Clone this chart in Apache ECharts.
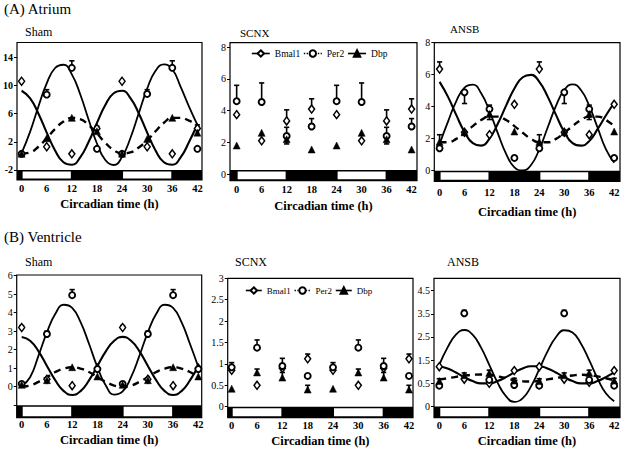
<!DOCTYPE html>
<html><head><meta charset="utf-8">
<script src="https://cdn.jsdelivr.net/npm/echarts@6/dist/echarts.min.js"></script>
<style>html,body{margin:0;padding:0;background:#fff}#c{width:623px;height:450px}</style>
</head><body><div id="c"></div>
<script>
// ---------- shared ----------
const hours = [0, 6, 12, 18, 24, 30, 36, 42];
const curveHours = [0,2,4,6,8,10,12,14,16,18,20,22,24,26,28,30,32,34,36,38,40,42];
const xTicks = [0, 6, 12, 18, 24, 30, 36, 42];
const lightPhases = [[0, 12], [24, 36]];

// ---------- (A) Atrium – Sham ----------
const aShamYTicks = [-2, 2, 6, 10, 14];
const aShamBmal1 = [10.6, 1.3, 0.3, 3.9, 10.6, 1.3, 0.3, 3.9];
const aShamPer2  = [0.3, 8.7, 12.5, 1.0, 0.3, 8.8, 12.5, 1.0];
const aShamDbp   = [0.3, 2.5, 5.4, 3.5, 0.3, 2.4, 5.4, 3.3];
const aShamBmal1Err = [null, null, null, null, null, null, null, null];
const aShamPer2Err  = [null, 9.4, 13.5, null, null, 9.4, 13.5, null];
const aShamDbpErr   = [null, null, null, 4.2, null, null, null, 4.4];
const aShamBmal1Fit = [9.25, 8.20, 6.03, 3.31, 0.77, -0.90, -1.25, -0.20, 1.97, 4.69, 7.23, 8.90, 9.25, 8.20, 6.03, 3.31, 0.77, -0.90, -1.25, -0.20, 1.97, 4.50];
const aShamPer2Fit  = [0.40, 3.38, 6.99, 10.31, 12.48, 12.94, 11.58, 8.75, 5.16, 1.76, -0.59, -1.29, -0.14, 2.55, 6.07, 9.55, 12.08, 13.0, 12.3, 9.8, 7.0, 4.4];
const aShamDbpFit   = [0.32, 0.49, 1.30, 2.52, 3.83, 4.87, 5.38, 5.21, 4.40, 3.18, 1.87, 0.83, 0.35, 0.50, 1.20, 2.20, 3.50, 4.70, 5.40, 5.40, 5.00, 4.40];

// ---------- (A) Atrium – SCNX ----------
const aScnxYTicks = [0, 2, 4, 6, 8];
const aScnxBmal1 = [3.75, 2.1, 3.35, 4.1, 3.75, 2.1, 3.35, 4.1];
const aScnxPer2  = [4.6, 4.55, 2.4, 3.0, 4.6, 4.55, 2.4, 3.0];
const aScnxDbp   = [1.8, 2.6, 2.2, 1.55, 1.8, 2.6, 2.2, 1.55];
const aScnxBmal1Err = [null, null, 4.05, 4.75, null, null, 4.05, 4.75];
const aScnxPer2Err  = [5.6, 5.75, 2.95, 3.5, 5.6, 5.75, 2.95, 3.5];
const aScnxDbpErr   = [null, null, 1.9, null, null, null, 1.9, null];

// ---------- (A) Atrium – ANSB ----------
const aAnsbYTicks = [0, 2, 4, 6, 8];
const aAnsbBmal1 = [6.35, 2.4, 2.25, 4.15, 6.35, 2.4, 2.25, 4.15];
const aAnsbPer2  = [1.4, 4.9, 3.85, 0.8, 1.4, 4.9, 3.85, 0.8];
const aAnsbDbp   = [1.8, 2.4, 3.55, 2.45, 1.8, 2.4, 3.55, 2.45];
const aAnsbBmal1Err = [6.8, null, null, null, 6.8, null, null, null];
const aAnsbPer2Err  = [null, 4.2, 4.1, null, null, 4.2, 4.1, null];
const aAnsbDbpErr   = [2.25, null, 3.2, null, 2.25, null, 3.2, null];
const aAnsbBmal1Fit = [5.55, 4.63, 3.49, 2.42, 1.72, 1.57, 2.01, 2.93, 4.07, 5.14, 5.84, 5.99, 5.55, 4.63, 3.49, 2.42, 1.72, 1.57, 1.85, 2.60, 3.45, 4.25];
const aAnsbPer2Fit  = [1.67, 3.05, 4.34, 5.19, 5.38, 4.84, 3.73, 2.35, 1.06, 0.21, 0.02, 0.36, 1.35, 2.70, 4.05, 5.04, 5.40, 5.04, 4.05, 2.70, 1.35, 0.50];
const aAnsbDbpFit   = [1.78, 1.78, 1.99, 2.37, 2.79, 3.17, 3.38, 3.38, 3.17, 2.79, 2.37, 1.99, 1.78, 1.78, 1.99, 2.37, 2.79, 3.17, 3.38, 3.38, 3.17, 2.79];

// ---------- (B) Ventricle – Sham ----------
const bShamYTicks = [-1, 0, 1, 2, 3, 4, 5, 6];
const bShamYText  = ['', '0', '1', '2', '3', '4', '5', '6'];
const bShamBmal1 = [3.2, 0.4, 0.05, 1.0, 3.2, 0.4, 0.05, 1.0];
const bShamPer2  = [0.15, 2.85, 4.95, 0.95, 0.15, 2.85, 4.95, 0.95];
const bShamDbp   = [0.1, 0.35, 1.05, 0.55, 0.1, 0.35, 1.05, 0.55];
const bShamBmal1Err = [3.3, null, null, null, 3.3, null, null, null];
const bShamPer2Err  = [null, 3.0, 5.25, null, null, 3.0, 5.25, null];
const bShamDbpErr   = [null, null, null, null, null, null, null, null];
const bShamBmal1Fit = [2.69, 2.48, 1.91, 1.12, 0.34, -0.24, -0.45, -0.24, 0.34, 1.12, 1.91, 2.48, 2.69, 2.48, 1.91, 1.12, 0.34, -0.24, -0.45, -0.24, 0.34, 1.12];
const bShamPer2Fit  = [0.05, 0.51, 1.68, 2.94, 3.94, 4.43, 4.26, 3.49, 2.32, 1.06, 0.06, -0.43, -0.26, 0.51, 1.68, 2.94, 3.94, 4.43, 4.26, 3.49, 2.32, 1.06];
const bShamDbpFit   = [-0.01, 0.06, 0.26, 0.52, 0.79, 0.98, 1.05, 0.98, 0.79, 0.52, 0.26, 0.06, -0.01, 0.06, 0.26, 0.52, 0.79, 0.98, 1.05, 0.98, 0.79, 0.52];

// ---------- (B) Ventricle – SCNX ----------
const bScnxYTicks = [0, 0.5, 1, 1.5, 2, 2.5, 3];
const bScnxBmal1 = [0.85, 0.5, 0.9, 1.12, 0.85, 0.5, 0.9, 1.12];
const bScnxPer2  = [0.92, 1.38, 0.95, 0.72, 0.92, 1.38, 0.95, 0.72];
const bScnxDbp   = [0.42, 0.8, 0.68, 0.4, 0.42, 0.8, 0.68, 0.4];
const bScnxBmal1Err = [null, null, null, 1.23, null, null, null, 1.23];
const bScnxPer2Err  = [1.03, 1.56, 1.13, null, 1.03, 1.56, 1.13, null];
const bScnxDbpErr   = [null, 0.88, 0.8, 0.5, null, 0.88, 0.8, 0.5];

// ---------- (B) Ventricle – ANSB ----------
const bAnsbYTicks = [-0.5, 0.5, 1.5, 2.5, 3.5, 4.5];
const bAnsbYText  = ['0', '0.5', '1.5', '2.5', '3.5', '4.5'];
const bAnsbBmal1 = [1.22, 0.68, 0.5, 1.05, 1.22, 0.68, 0.55, 1.05];
const bAnsbPer2  = [0.4, 3.52, 0.65, 0.43, 0.4, 3.52, 0.65, 0.4];
const bAnsbDbp   = [0.6, 0.85, 0.95, 0.62, 0.6, 0.85, 0.95, 0.62];
const bAnsbBmal1Err = [null, null, null, null, null, null, null, null];
const bAnsbPer2Err  = [null, 3.65, null, 0.55, null, 3.65, null, 0.55];
const bAnsbDbpErr   = [0.7, 0.95, 1.07, 0.72, 0.7, 0.95, 1.07, 0.72];
const bAnsbBmal1Fit = [1.24, 1.14, 0.97, 0.77, 0.60, 0.50, 0.50, 0.60, 0.77, 0.97, 1.14, 1.24, 1.24, 1.14, 0.97, 0.77, 0.60, 0.50, 0.50, 0.60, 0.77, 0.97];
const bAnsbPer2Fit  = [1.30, 2.05, 2.60, 2.80, 2.60, 2.05, 1.30, 0.53, -0.05, -0.30, -0.15, 0.36, 1.10, 1.88, 2.49, 2.79, 2.69, 2.22, 1.50, 0.72, 0.07, -0.27];
const bAnsbDbpFit   = [0.66, 0.72, 0.78, 0.83, 0.87, 0.88, 0.86, 0.80, 0.72, 0.64, 0.59, 0.58, 0.61, 0.67, 0.73, 0.79, 0.84, 0.87, 0.86, 0.80, 0.72, 0.64];

// ---------- layout (positions/styles) ----------
const FONT = 'Liberation Serif';
const panels = [
  { title:'Sham', tLeft:25, tTop:26, tSize:12,
    grid:{left:16.5, top:42.5, width:185.5, height:137.5},
    xr:[-1.1, 43.1], yr:[-3.42, 16.1], barTop:-2, yTicks:aShamYTicks, yText:null, yBold:true,
    xMargin:3, nameGap:17,
    pts:[aShamBmal1, aShamPer2, aShamDbp], err:[aShamBmal1Err, aShamPer2Err, aShamDbpErr],
    fit:[aShamBmal1Fit, aShamPer2Fit, aShamDbpFit] },
  { title:'SCNX', tLeft:240, tTop:27, tSize:11,
    grid:{left:230, top:42.7, width:187, height:138},
    xr:[-1.6, 43.3], yr:[-0.42, 8.29], barTop:0.25, yTicks:aScnxYTicks, yText:null, yBold:false,
    xMargin:3, nameGap:19, legendTop:48.5, legendLeft:251, legendSize:9.5, legendW:18,
    pts:[aScnxBmal1, aScnxPer2, aScnxDbp], err:[aScnxBmal1Err, aScnxPer2Err, aScnxDbpErr], fit:null },
  { title:'ANSB', tLeft:450, tTop:23, tSize:11,
    grid:{left:434.3, top:42.7, width:185.7, height:138.6},
    xr:[-1.27, 43.4], yr:[-0.66, 8.0], barTop:0, yTicks:aAnsbYTicks, yText:null, yBold:false,
    xMargin:6, nameGap:24,
    pts:[aAnsbBmal1, aAnsbPer2, aAnsbDbp], err:[aAnsbBmal1Err, aAnsbPer2Err, aAnsbDbpErr],
    fit:[aAnsbBmal1Fit, aAnsbPer2Fit, aAnsbDbpFit] },
  { title:'Sham', tLeft:25, tTop:256, tSize:12,
    grid:{left:16.7, top:275, width:185, height:142.7},
    xr:[-1.19, 42.8], yr:[-1.68, 6.04], barTop:-1, yTicks:bShamYTicks, yText:bShamYText, yBold:false,
    xMargin:1, nameGap:16,
    pts:[bShamBmal1, bShamPer2, bShamDbp], err:[bShamBmal1Err, bShamPer2Err, bShamDbpErr],
    fit:[bShamBmal1Fit, bShamPer2Fit, bShamDbpFit] },
  { title:'SCNX', tLeft:235, tTop:256, tSize:12,
    grid:{left:227.7, top:278.3, width:185.3, height:139.4},
    xr:[-0.95, 42.95], yr:[-0.257, 3.0], barTop:0, yTicks:bScnxYTicks, yText:null, yBold:false,
    xMargin:2, nameGap:17, legendTop:286, legendLeft:245, legendSize:9, legendW:16,
    pts:[bScnxBmal1, bScnxPer2, bScnxDbp], err:[bScnxBmal1Err, bScnxPer2Err, bScnxDbpErr], fit:null },
  { title:'ANSB', tLeft:447, tTop:256, tSize:12,
    grid:{left:434, top:278.3, width:186, height:139.4},
    xr:[-1.27, 43.4], yr:[-0.98, 5.03], barTop:-0.5, yTicks:bAnsbYTicks, yText:bAnsbYText, yBold:false,
    xMargin:2, nameGap:17,
    pts:[bAnsbBmal1, bAnsbPer2, bAnsbDbp], err:[bAnsbBmal1Err, bAnsbPer2Err, bAnsbDbpErr],
    fit:[bAnsbBmal1Fit, bAnsbPer2Fit, bAnsbDbpFit] }
];

const names = ['Bmal1', 'Per2', 'Dbp'];
const markerStyle = [
  { symbol:'diamond', symbolSize:[6, 8], itemStyle:{color:'#fff', borderColor:'#000', borderWidth:1.5} },
  { symbol:'circle', symbolSize:6, itemStyle:{color:'#fff', borderColor:'#000', borderWidth:1.9} },
  { symbol:'triangle', symbolSize:[7, 7], itemStyle:{color:'#000', borderColor:'#000', borderWidth:0.5} }
];
const fitStyle = [
  { width:2.1, type:'solid' },
  { width:1.8, type:'solid' },
  { width:2.4, type:[7, 5] }
];

const grids = [], xAxes = [], yAxes = [], series = [], titles = [], legends = [];
titles.push({ text:'(A) Atrium', left:4, top:1, padding:0, textStyle:{fontFamily:FONT, fontSize:15, fontWeight:'normal', color:'#000'} });
titles.push({ text:'(B) Ventricle', left:4, top:229, padding:0, textStyle:{fontFamily:FONT, fontSize:15, fontWeight:'normal', color:'#000'} });

function dayNight(p) {
  return function (params, api) {
    const cs = params.coordSys;
    const yTop = api.coord([0, p.barTop])[1];
    const yBot = cs.y + cs.height;
    const s = api.coord([api.value(0), p.barTop])[0];
    const e = api.coord([api.value(1), p.barTop])[0];
    const ch = [];
    if (params.dataIndex === 0) ch.push({ type:'rect', shape:{x:cs.x, y:yTop, width:cs.width, height:yBot - yTop}, style:{fill:'#000'} });
    ch.push({ type:'rect', shape:{x:s + 1, y:yTop + 1.5, width:e - s - 2, height:yBot - yTop - 3}, style:{fill:'#fff'} });
    return { type:'group', children:ch };
  };
}
function errBar(params, api) {
  const p0 = api.coord([api.value(0), api.value(1)]);
  const p1 = api.coord([api.value(0), api.value(2)]);
  return { type:'group', children:[
    { type:'line', shape:{x1:p0[0], y1:p0[1], x2:p1[0], y2:p1[1]}, style:{stroke:'#000', lineWidth:1.6} },
    { type:'line', shape:{x1:p1[0] - 2.6, y1:p1[1], x2:p1[0] + 2.6, y2:p1[1]}, style:{stroke:'#000', lineWidth:1.6} }
  ]};
}

panels.forEach((p, i) => {
  grids.push({ left:p.grid.left, top:p.grid.top, width:p.grid.width, height:p.grid.height,
    show:true, borderColor:'#000', borderWidth:1.2, backgroundColor:'transparent' });
  titles.push({ text:p.title, left:p.tLeft, top:p.tTop, padding:0,
    textStyle:{fontFamily:FONT, fontSize:p.tSize, fontWeight:'normal', color:'#000'} });
  xAxes.push({ type:'value', gridIndex:i, min:p.xr[0], max:p.xr[1],
    name:'Circadian time (h)', nameLocation:'middle', nameGap:p.nameGap,
    nameTextStyle:{fontFamily:FONT, fontSize:12.5, fontWeight:'bold', color:'#000'},
    axisLine:{show:false, onZero:false},
    axisTick:{show:false},
    splitLine:{show:false},
    axisLabel:{customValues:xTicks, margin:p.xMargin, fontFamily:FONT, fontSize:10.5, fontWeight:'bold', color:'#000'} });
  const fmt = p.yText ? (v => { const k = p.yTicks.findIndex(t => Math.abs(t - v) < 1e-6); return k >= 0 ? p.yText[k] : ''; }) : (v => String(v));
  yAxes.push({ type:'value', gridIndex:i, min:p.yr[0], max:p.yr[1],
    axisLine:{show:false, onZero:false},
    axisTick:{show:true, customValues:p.yTicks, length:3, lineStyle:{color:'#000', width:1}},
    splitLine:{show:false},
    axisLabel:{customValues:p.yTicks, formatter:fmt, margin:4, fontFamily:FONT, fontSize:10,
      fontWeight:p.yBold ? 'bold' : 'normal', color:'#000'} });
  series.push({ type:'custom', name:'bar' + i, xAxisIndex:i, yAxisIndex:i, data:lightPhases,
    renderItem:dayNight(p), silent:true, clip:false, z:1 });
  if (p.fit) {
    p.fit.forEach((arr, k) => {
      series.push({ type:'line', name:names[k] + ' fit', xAxisIndex:i, yAxisIndex:i,
        data:curveHours.map((t, j) => [t, arr[j]]), smooth:0.5, showSymbol:false, symbol:'none',
        lineStyle:{color:'#000', width:fitStyle[k].width, type:fitStyle[k].type}, z:3, silent:true });
    });
  }
  const errData = [];
  p.err.forEach((arr, k) => arr.forEach((e, j) => { if (e !== null) errData.push([hours[j], p.pts[k][j], e]); }));
  series.push({ type:'custom', name:'err' + i, xAxisIndex:i, yAxisIndex:i, data:errData,
    renderItem:errBar, silent:true, z:4 });
  p.pts.forEach((arr, k) => {
    series.push(Object.assign({ type:'line', name:names[k], xAxisIndex:i, yAxisIndex:i,
      data:hours.map((t, j) => [t, arr[j]]), showSymbol:true,
      lineStyle:{width:0, color:'#000'}, z:5, silent:true }, markerStyle[k]));
  });
  if (p.legendTop !== undefined) {
    legends.push({ left:p.legendLeft, top:p.legendTop, itemWidth:p.legendW, itemHeight:8, itemGap:3,
      selectedMode:false, padding:0,
      textStyle:{fontFamily:FONT, fontSize:p.legendSize, color:'#000'},
      data:[
        { name:'Bmal1', lineStyle:{width:1.6, type:'solid', color:'#000', opacity:1} },
        { name:'Per2', lineStyle:{width:1.4, type:'dotted', color:'#000', opacity:1} },
        { name:'Dbp', lineStyle:{width:1.6, type:'solid', color:'#000', opacity:1} }
      ] });
  }
});

const chart = echarts.init(document.getElementById('c'), null, { renderer:'svg' });
chart.setOption({
  animation:false, backgroundColor:'#fff',
  title:titles, legend:legends, grid:grids, xAxis:xAxes, yAxis:yAxes, series:series
});
</script></body></html>
